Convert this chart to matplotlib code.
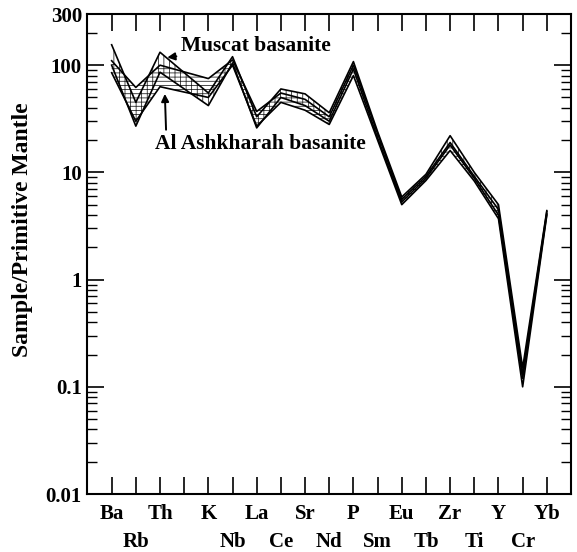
import numpy as np
import matplotlib
matplotlib.use('Agg')
import matplotlib.pyplot as plt
from matplotlib.ticker import FixedLocator, LogLocator, NullFormatter

# tick slots (index 3 is an unlabelled slot with no data)
tick_labels = ['Ba', 'Rb', 'Th', '', 'K', 'Nb', 'La', 'Ce', 'Sr', 'Nd',
               'P', 'Sm', 'Eu', 'Tb', 'Zr', 'Ti', 'Y', 'Cr', 'Yb']
label_row = [0, 1, 0, 0, 0, 1, 0, 1, 0, 1, 0, 1, 0, 1, 0, 1, 0, 1, 0]

# elements that carry data, and their slot index
elements = ['Ba', 'Rb', 'Th', 'K', 'Nb', 'La', 'Ce', 'Sr', 'Nd',
            'P', 'Sm', 'Eu', 'Tb', 'Zr', 'Ti', 'Y', 'Cr', 'Yb']
slots = [0, 1, 2, 4, 5, 6, 7, 8, 9, 10, 11, 12, 13, 14, 15, 16, 17, 18]

# Muscat basanite envelope (sample / primitive mantle)
muscat_low = [100, 27, 86, 42, 105, 26, 50, 42, 30, 92, 21, 5.3, 8.8, 18, 8.8, 4.0, 0.12, 4.1]
muscat_high = [155, 45, 132, 55, 120, 33, 60, 54, 36, 108, 24, 5.9, 9.6, 22, 10.0, 5.0, 0.15, 4.4]

# Al Ashkharah basanite envelope
ashk_low = [85, 30, 63, 50, 100, 27, 45, 38, 28, 80, 20, 5.0, 8.4, 16, 8.3, 3.7, 0.10, 4.0]
ashk_high = [110, 62, 100, 75, 112, 37, 55, 48, 33, 100, 23, 5.6, 9.2, 19, 9.2, 4.5, 0.13, 4.3]

y_ticks = [0.01, 0.1, 1, 10, 100, 300]
y_tick_labels = ['0.01', '0.1', '1', '10', '100', '300']

plt.rcParams['font.family'] = 'Liberation Serif'
plt.rcParams['font.weight'] = 'bold'
plt.rcParams['hatch.linewidth'] = 0.5

fig = plt.figure(figsize=(5.77, 5.52), dpi=100)
ax = fig.add_axes([0.1516, 0.105, 0.838, 0.8696])

x = np.array(slots)

# envelopes: vertical hatch for Muscat, horizontal for Al Ashkharah
ax.fill_between(x, muscat_low, muscat_high, facecolor='none', edgecolor='k',
                linewidth=0, hatch='|||')
ax.fill_between(x, ashk_low, ashk_high, facecolor='none', edgecolor='k',
                linewidth=0, hatch='----')
for s in [muscat_low, muscat_high, ashk_low, ashk_high]:
    ax.plot(x, s, color='k', lw=1.2)

ax.set_yscale('log')
ax.set_ylim(0.01, 300)
ax.set_xlim(-1, 19)

ax.yaxis.set_major_locator(FixedLocator(y_ticks))
ax.set_yticklabels(y_tick_labels)
ax.yaxis.set_minor_locator(LogLocator(base=10, subs=np.arange(2, 10)))
ax.yaxis.set_minor_formatter(NullFormatter())

# top-row labels on major x ticks, bottom-row labels on minor x ticks
top_pos = [i for i, r in enumerate(label_row) if r == 0]
bot_pos = [i for i, r in enumerate(label_row) if r == 1]
ax.set_xticks(top_pos)
ax.set_xticklabels([tick_labels[i] for i in top_pos])
ax.set_xticks(bot_pos, minor=True)
ax.set_xticklabels([tick_labels[i] for i in bot_pos], minor=True)

ax.tick_params(axis='both', which='major', direction='in', length=12, width=1.2,
               top=True, right=True, labelsize=15)
ax.tick_params(axis='x', which='minor', direction='in', length=12, width=1.2,
               top=True, labelsize=15, pad=27)
ax.tick_params(axis='y', which='minor', direction='in', length=7, width=1.0,
               left=True, right=True)
ax.tick_params(axis='x', which='major', pad=7)
ax.tick_params(axis='y', which='major', pad=4)

for sp in ax.spines.values():
    sp.set_linewidth(1.5)

ax.set_ylabel('Sample/Primitive Mantle', fontsize=17, fontweight='bold')
ax.yaxis.set_label_coords(-0.113, 0.55)

ax.annotate('Muscat basanite', xy=(2.3, 118), xytext=(2.85, 150),
            fontsize=15.5, fontweight='bold', va='center', ha='left',
            arrowprops=dict(arrowstyle='-|>', color='k', lw=1.4,
                            mutation_scale=11, shrinkA=1, shrinkB=0))
ax.annotate('', xy=(2.2, 54), xytext=(2.25, 25),
            arrowprops=dict(arrowstyle='-|>', color='k', lw=1.4,
                            mutation_scale=11, shrinkA=0, shrinkB=0))
ax.text(1.78, 18.5, 'Al Ashkharah basanite', fontsize=15.5, fontweight='bold',
        va='center', ha='left')

fig.savefig('out.png', dpi=100)
